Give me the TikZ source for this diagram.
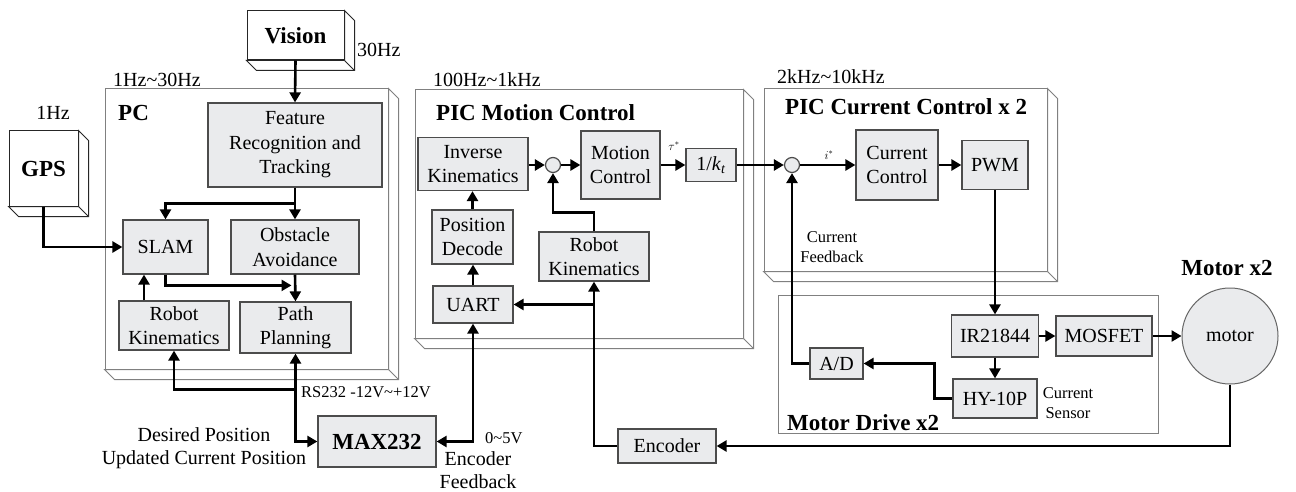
\documentclass[tikz,border=0pt]{standalone}
\usepackage{fontspec}
\setmainfont{Liberation Serif}
\usetikzlibrary{arrows.meta,calc}
\definecolor{boxgray}{RGB}{234,235,237}
\newcommand{\makedepth}[2][cont]{%
  \draw[#1] (#2.north east) -- ++(10,10) -- ($(#2.south east)+(10,10)$) -- ($(#2.south west)+(10,10)$) -- (#2.south west) -- (#2.south east) -- cycle;
  \draw[#1] (#2.south east) -- ++(10,10);}
\tikzset{
 >={Triangle[length=10pt,width=11pt]},
 arr/.style={line width=2.6pt,->},
 arrb/.style={line width=2.6pt,<->},
 plain/.style={line width=2.6pt},
 box/.style={draw=black!70,line width=1.2pt,fill=boxgray,inner sep=0pt,align=center,font=\fontsize{20}{24.5}\selectfont},
 cont/.style={draw=black!50,line width=1pt,fill=white,inner sep=0pt},
 solid3d/.style={draw=black!85,line width=1pt,fill=white,inner sep=0pt},
 sumc/.style={circle,draw=black!70,line width=1.2pt,fill=boxgray,minimum size=15pt,inner sep=0pt},
 lbl/.style={font=\fontsize{20}{23}\selectfont,inner sep=0pt,align=center},
 slbl/.style={font=\fontsize{16.5}{20}\selectfont,inner sep=0pt,align=center},
 ttl/.style={font=\bfseries\fontsize{23}{27}\selectfont,inner sep=0pt},
}
\begin{document}
\begin{tikzpicture}[x=1pt,y=-1pt]
\useasboundingbox[fill=white] (0,0) rectangle (1296,492);

% containers
\node[cont,minimum width=283pt,minimum height=280pt] (pc) at (246.5,229) {};
\makedepth{pc}
\node[cont,minimum width=328pt,minimum height=248pt] (pic) at (579,214) {};
\makedepth{pic}
\node[cont,minimum width=283pt,minimum height=182pt] (cur) at (905.5,180) {};
\makedepth{cur}
\node[cont,minimum width=380pt,minimum height=138pt] (drive) at (968,364) {};
\node[solid3d,minimum width=97pt,minimum height=49pt] (vision) at (295.5,35.5) {};
\makedepth[solid3d]{vision}
\node[ttl] at (vision) {Vision};
\node[solid3d,minimum width=69pt,minimum height=75pt] (gps) at (43.5,168.5) {};
\makedepth[solid3d]{gps}
\node[ttl] at (gps) {GPS};

% titles and labels
\node[lbl,anchor=west] (f30) at (357,50) {30Hz};
\node[lbl,anchor=west] (fpc) at (113,80) {1Hz\textasciitilde30Hz};
\node[lbl] (f1) at (53,113) {1Hz};
\node[ttl,anchor=west] (tpc) at (118,113) {PC};
\node[lbl,anchor=west] (fpic) at (433,80) {100Hz\textasciitilde1kHz};
\node[ttl,anchor=west] (tpic) at (436,113) {PIC Motion Control};
\node[lbl,anchor=west] (fcur) at (777,77) {2kHz\textasciitilde10kHz};
\node[ttl,anchor=west] (tcur) at (785,107) {PIC Current Control x 2};
\node[ttl,anchor=west] (tdrv) at (787,423) {Motor Drive x2};
\node[ttl] (tmot) at (1227,268) {Motor x2};

% PC blocks
\node[box,minimum width=174pt,minimum height=84pt] (feat) at (295,145) {Feature\\Recognition and\\Tracking};
\node[box,minimum width=85pt,minimum height=54pt] (slam) at (165.5,247) {SLAM};
\node[box,minimum width=128pt,minimum height=54pt] (obst) at (295,247) {Obstacle\\Avoidance};
\node[box,minimum width=110pt,minimum height=49pt] (rk1) at (174,325.5) {Robot\\Kinematics};
\node[box,minimum width=111pt,minimum height=51pt] (path) at (295.5,327.5) {Path\\Planning};
\node[box,minimum width=118pt,minimum height=51pt,font=\bfseries\fontsize{23}{27}\selectfont] (max) at (377,441.5) {MAX232};

% PIC motion blocks
\node[box,minimum width=110pt,minimum height=53pt] (ik) at (473,164) {Inverse\\Kinematics};
\node[sumc] (sum1) at (553,165) {};
\node[box,minimum width=79pt,minimum height=68pt] (mc) at (620.5,165) {Motion\\Control};
\node[box,minimum width=50pt,minimum height=33pt] (kt) at (711,165) {1/\textit{k}\textsubscript{\textit{t}}};
\node[box,minimum width=81pt,minimum height=54pt] (pd) at (472.5,237) {Position\\Decode};
\node[box,minimum width=110pt,minimum height=49pt] (rk2) at (594,256.5) {Robot\\Kinematics};
\node[box,minimum width=80pt,minimum height=37pt] (uart) at (473,304.5) {UART};
\node[box,minimum width=98pt,minimum height=34pt] (enc) at (667,446) {Encoder};

% PIC current blocks
\node[sumc] (sum2) at (792,165) {};
\node[box,minimum width=82pt,minimum height=70pt] (cc) at (897,165) {Current\\Control};
\node[box,minimum width=66pt,minimum height=49pt] (pwm) at (995,165) {PWM};

% motor drive blocks
\node[box,minimum width=53pt,minimum height=31pt] (ad) at (836.5,363.5) {A/D};
\node[box,minimum width=87pt,minimum height=42pt] (ir) at (995,336) {IR21844};
\node[box,minimum width=96pt,minimum height=40pt] (mos) at (1104,336) {MOSFET};
\node[box,minimum width=84pt,minimum height=39pt] (hy) at (995,398.5) {HY-10P};
\node[circle,draw=black!60,line width=1pt,fill=boxgray,minimum size=96pt,inner sep=0pt,font=\fontsize{20}{24}\selectfont] (motor) at (1230,336) {motor};

% small labels
\node[font=\fontsize{12}{14}\selectfont] (tau) at (674,146) {$\tau^{*}$};
\node[font=\fontsize{12}{14}\selectfont] (istar) at (829,155) {$i^{*}$};
\node[slbl] (cfb) at (832,247) {Current\\Feedback};
\node[slbl] (csn) at (1068,403) {Current\\Sensor};
\node[slbl,anchor=west] (rs) at (301,392) {RS232 -12V\textasciitilde+12V};
\node[slbl,anchor=west] (v05) at (485,438) {0\textasciitilde5V};
\node[lbl] (dp) at (204,448.5) {Desired Position\\Updated Current Position};
\node[lbl] (ef) at (478,470) {Encoder\\Feedback};

% connectors PC
\draw[arr] (vision.south) -- (feat.north);
\draw[arr] (feat.south) -- (obst.north);
\coordinate (br1) at ($(feat.south)+(0,16)$);
\draw[arr] (br1) -| (slam.north);
\draw[arr] (gps.south) |- (slam.west);
\draw[arr] ([xshift=-30pt]rk1.north) -- ([xshift=-30pt]rk1.north |- slam.south);
\draw[arr] (slam.south) |- ($(path.north)+(-4,-16)$);
\draw[arr] (obst.south) -- (path.north);
\draw[arrb] (path.south) |- (max.west);
\coordinate (br2) at ($(path.south)+(0,36)$);
\draw[arr] (br2) -| (rk1.south);
\draw[arrb] (max.east) -| (uart.south);

% connectors PIC motion
\draw[arr] (uart.north) -- (uart.north |- pd.south);
\draw[arr] (pd.north) -- (pd.north |- ik.south);
\draw[arr] (ik.east |- sum1.west) -- (sum1.west);
\draw[arr] (sum1.east) -- (sum1.east -| mc.west);
\draw[arr] (mc.east) -- (kt.west);
\draw[arr] (kt.east) -- (sum2.west);
\draw[arr] (rk2.north) -- ++(0,-19) -| (sum1.south);
\draw[arr] (enc.west) -| (rk2.south);
\coordinate (br3) at (rk2.south |- uart.east);
\draw[arr] (br3) -- (uart.east);
\draw[arr] (motor.south) |- (enc.east);

% connectors current/drive
\draw[arr] (sum2.east) -- (sum2.east -| cc.west);
\draw[arr] (cc.east) -- (pwm.west);
\draw[arr] (pwm.south) -- (ir.north);
\draw[arr] (ir.east) -- (mos.west);
\draw[arr] (mos.east) -- (motor.west);
\draw[arr] (ir.south) -- (hy.north);
\draw[arr] (hy.west) -- ++(-18,0) |- (ad.east);
\draw[arr] (ad.west) -| (sum2.south);
\end{tikzpicture}
\end{document}
